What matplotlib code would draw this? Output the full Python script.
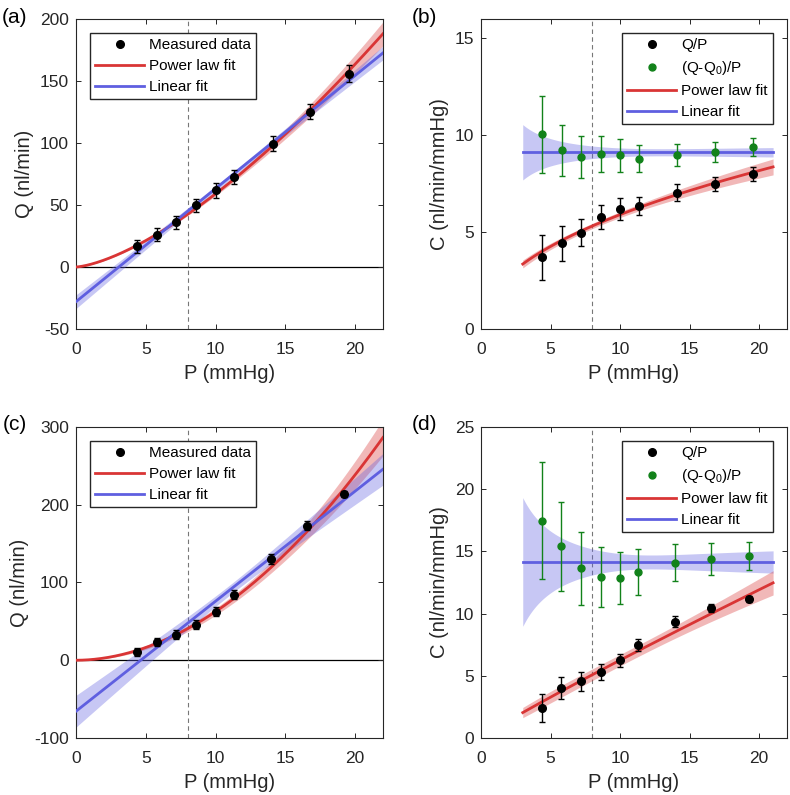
import numpy as np
import matplotlib.pyplot as plt
from matplotlib.lines import Line2D

plt.rcParams['font.family'] = ['Liberation Sans', 'DejaVu Sans']
plt.rcParams['mathtext.fontset'] = 'custom'
plt.rcParams['mathtext.rm'] = 'Liberation Sans'
plt.rcParams['mathtext.it'] = 'Liberation Sans'
plt.rcParams['axes.unicode_minus'] = False

# ---- data set 1 : panels (a) and (b) ----
p1 = [4.4, 5.8, 7.2, 8.6, 10.0, 11.35, 14.1, 16.8, 19.55]
q1 = [16.6, 26.0, 35.9, 49.6, 61.7, 72.5, 99.3, 125.3, 156.0]
q1_err = [5.1, 5.2, 5.1, 5.3, 5.7, 5.4, 6.1, 6.2, 7.0]
c1 = [3.69, 4.42, 4.97, 5.79, 6.21, 6.34, 7.03, 7.49, 7.99]
c1_err = [1.16, 0.90, 0.71, 0.62, 0.57, 0.48, 0.43, 0.37, 0.36]
c1_corr = [10.05, 9.22, 8.86, 9.03, 8.97, 8.78, 8.97, 9.14, 9.38]
c1_corr_err = [2.0, 1.3, 1.09, 0.92, 0.85, 0.70, 0.56, 0.50, 0.46]

# ---- data set 2 : panels (c) and (d) ----
p2 = [4.36, 5.78, 7.2, 8.62, 10.0, 11.32, 13.94, 16.57, 19.24]
q2 = [10.7, 23.5, 33.0, 45.8, 62.5, 84.4, 130.3, 173.1, 213.8]
q2_err = [5.0, 5.3, 5.5, 5.4, 5.5, 5.4, 6.0, 5.5, 4.4]
c2 = [2.41, 4.02, 4.56, 5.31, 6.24, 7.5, 9.35, 10.42, 11.15]
c2_err = [1.15, 0.92, 0.76, 0.63, 0.55, 0.48, 0.43, 0.33, 0.23]
c2_corr = [17.47, 15.41, 13.64, 12.94, 12.86, 13.32, 14.09, 14.42, 14.63]
c2_corr_err = [4.72, 3.59, 2.91, 2.42, 2.12, 1.85, 1.49, 1.29, 1.11]

# fit parameters: Q = a*P^b (power law), Q = m*P + q0 (linear)
# band params: linear (A, B, centre), power law relative (s0, s1, centre)
fit1 = dict(a=2.0, b=1.47, m=9.12, q0=-28.0,
            lA=2.2, lB=0.46, lxm=11.0, s0=0.025, s1=0.05, pm=9.0)
fit2 = dict(a=0.735, b=1.93, m=14.15, q0=-65.6,
            lA=6.5, lB=1.76, lxm=11.0, s0=0.06, s1=0.124, pm=14.0)

RED = '#d93535'
BLUE = '#5f5fe0'
GREEN = '#12821a'
DARK = '#262626'
TICK_FS = 12.5
LABEL_FS = 14.5
LEG_FS = 11


def power_curve(f, p):
    q = f['a'] * p ** f['b']
    r = np.sqrt(f['s0'] ** 2 + f['s1'] ** 2 * (np.log(p) - np.log(f['pm'])) ** 2)
    return q, r


def lin_curve(f, p):
    q = f['m'] * p + f['q0']
    w = np.sqrt(f['lA'] ** 2 + f['lB'] ** 2 * (p - f['lxm']) ** 2)
    return q, w


def style(ax, xlim, ylim, yticks):
    ax.set_xlim(xlim)
    ax.set_ylim(ylim)
    ax.set_xticks([0, 5, 10, 15, 20])
    ax.set_yticks(yticks)
    ax.tick_params(direction='in', top=True, right=True, length=3.5, width=0.7,
                   labelsize=TICK_FS, colors=DARK)
    ax.tick_params(axis='x', pad=9.5)
    ax.tick_params(axis='y', pad=5)
    for s in ax.spines.values():
        s.set_linewidth(0.8)
        s.set_color(DARK)
    ax.axvline(8, color='#777777', ls=(0, (4, 3)), lw=0.8, zorder=1)
    ax.set_xlabel('P (mmHg)', fontsize=LABEL_FS, color=DARK, labelpad=5)


def make_legend(ax, handles, labels, loc, anchor):
    ax.legend(handles, labels, loc=loc, bbox_to_anchor=anchor, borderaxespad=0,
              fontsize=LEG_FS, fancybox=False, edgecolor=DARK, framealpha=1,
              handlelength=3.2, handletextpad=0.3, labelspacing=0.45,
              borderpad=0.35)


def q_panel(ax, p, q, qerr, f, ylim, yticks):
    x = np.linspace(1e-3, 22, 400)
    qp, r = power_curve(f, x)
    ql, w = lin_curve(f, x)
    ax.axhline(0, color='black', lw=0.9, zorder=1)
    ax.fill_between(x, qp * (1 - r), qp * (1 + r), color=RED, alpha=0.35, lw=0, zorder=2)
    ax.plot(x, qp, color=RED, lw=2.0, zorder=3)
    ax.fill_between(x, ql - w, ql + w, color=BLUE, alpha=0.35, lw=0, zorder=2)
    ax.plot(x, ql, color=BLUE, lw=2.0, zorder=3)
    ax.errorbar(p, q, yerr=qerr, fmt='o', color='black', ms=5.5, capsize=2.5,
                elinewidth=1.0, capthick=1.0, zorder=4)
    style(ax, (0, 22), ylim, yticks)
    ax.set_ylabel('Q (nl/min)', fontsize=LABEL_FS, color=DARK)
    handles = [Line2D([], [], ls='none', marker='o', color='black', ms=5.5),
               Line2D([], [], color=RED, lw=2.0),
               Line2D([], [], color=BLUE, lw=2.0)]
    make_legend(ax, handles, ['Measured data', 'Power law fit', 'Linear fit'],
                'upper left', (0.045, 0.955))


def c_panel(ax, p, c, cerr, cc, ccerr, f, ylim, yticks):
    x = np.linspace(3, 21, 300)
    qp, r = power_curve(f, x)
    ql, w = lin_curve(f, x)
    cp = qp / x
    cl = (ql - f['q0']) / x
    wl = w / x
    ax.fill_between(x, cl - wl, cl + wl, color=BLUE, alpha=0.35, lw=0, zorder=2)
    ax.plot(x, cl, color=BLUE, lw=2.0, zorder=3)
    ax.fill_between(x, cp * (1 - r), cp * (1 + r), color=RED, alpha=0.35, lw=0, zorder=2)
    ax.plot(x, cp, color=RED, lw=2.0, zorder=3)
    ax.errorbar(p, c, yerr=cerr, fmt='o', color='black', ms=5.5, capsize=2.5,
                elinewidth=1.0, capthick=1.0, zorder=4)
    ax.errorbar(p, cc, yerr=ccerr, fmt='o', color=GREEN, ms=5.0, capsize=2.5,
                elinewidth=1.0, capthick=1.0, zorder=4)
    style(ax, (0, 22), ylim, yticks)
    ax.set_ylabel('C (nl/min/mmHg)', fontsize=LABEL_FS, color=DARK)
    handles = [Line2D([], [], ls='none', marker='o', color='black', ms=5.5),
               Line2D([], [], ls='none', marker='o', color=GREEN, ms=5.0),
               Line2D([], [], color=RED, lw=2.0),
               Line2D([], [], color=BLUE, lw=2.0)]
    make_legend(ax, handles, ['Q/P', '(Q-Q$_0$)/P', 'Power law fit', 'Linear fit'],
                'upper right', (0.953, 0.955))


fig = plt.figure(figsize=(7.9, 7.95), dpi=100)
ax_a = fig.add_axes([0.0962, 0.5862, 0.3886, 0.3899])
ax_b = fig.add_axes([0.6089, 0.5862, 0.3873, 0.3899])
ax_c = fig.add_axes([0.0962, 0.0717, 0.3886, 0.3912])
ax_d = fig.add_axes([0.6089, 0.0717, 0.3873, 0.3912])

q_panel(ax_a, p1, q1, q1_err, fit1, (-50, 200), [-50, 0, 50, 100, 150, 200])
c_panel(ax_b, p1, c1, c1_err, c1_corr, c1_corr_err, fit1, (0, 16), [0, 5, 10, 15])
q_panel(ax_c, p2, q2, q2_err, fit2, (-100, 300), [-100, 0, 100, 200, 300])
c_panel(ax_d, p2, c2, c2_err, c2_corr, c2_corr_err, fit2, (0, 25), [0, 5, 10, 15, 20, 25])

for lab, xx, yy in [('(a)', 0.002, 0.99), ('(b)', 0.521, 0.99),
                    ('(c)', 0.004, 0.478), ('(d)', 0.521, 0.478)]:
    fig.text(xx, yy, lab, fontsize=15, color='black', va='top', ha='left')

fig.savefig('out.png', dpi=100)
